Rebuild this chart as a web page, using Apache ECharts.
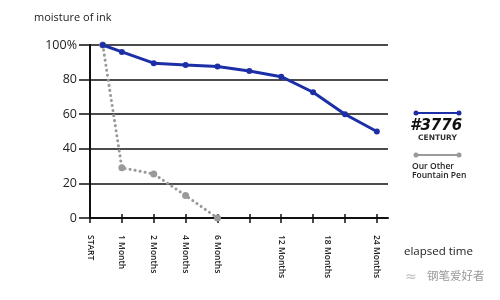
<!DOCTYPE html>
<html>
<head>
<meta charset="utf-8">
<script src="https://cdn.jsdelivr.net/npm/echarts@6/dist/echarts.min.js"></script>
<style>html,body{margin:0;padding:0;background:#fff}#c{width:500px;height:300px}</style>
</head>
<body>
<div id="c"></div>
<script>
// Tick positions (category slots) and their labels
var tickPositions = [0, 1, 2, 3, 4, 5, 6, 7, 8, 9];
var labelPositions = [0, 1, 2, 3, 4, 6, 7.45, 9];
var labelTexts = ['START', '1 Month', '2 Months', '4 Months', '6 Months', '12 Months', '18 Months', '24 Months'];
// Series: x slot, moisture %
var centuryX = [0.4, 1, 2, 3, 4, 5, 6, 7, 8, 9];
var centuryY = [100, 96, 89.5, 88.5, 87.6, 85, 81.7, 72.7, 60, 50];
var otherX = [0.4, 1, 2, 3, 4];
var otherY = [100, 29, 25.5, 13, 0];
var yTicks = [0, 20, 40, 60, 80, 100];

function pairs(xs, ys) { return xs.map(function (x, i) { return [x, ys[i]]; }); }
var labelMap = {};
labelPositions.forEach(function (p, i) { labelMap[p] = labelTexts[i]; });

var chart = echarts.init(document.getElementById('c'), null, { renderer: 'canvas' });
var axisCommon = { type: 'value', min: 0, max: 9.35, gridIndex: 0 };
chart.setOption({
  animation: false,
  grid: { left: 90, right: 112, top: 45, bottom: 82, containLabel: false },
  xAxis: [
    Object.assign({}, axisCommon, {
      position: 'bottom',
      axisLine: { show: true, lineStyle: { color: '#111', width: 2 } },
      axisTick: { show: true, length: 5, customValues: tickPositions, lineStyle: { color: '#111', width: 1.5 } },
      axisLabel: {
        show: true, rotate: -90, margin: 17, customValues: labelPositions,
        formatter: function (v) { return labelMap[v] || ''; },
        fontFamily: 'Open Sans', fontSize: 8.5, fontWeight: 600, color: '#222'
      },
      splitLine: { show: false }
    }),
    Object.assign({}, axisCommon, {
      position: 'bottom',
      axisLine: { show: false },
      axisTick: { show: true, inside: true, length: 4, customValues: tickPositions, lineStyle: { color: '#111', width: 1.5 } },
      axisLabel: { show: false },
      splitLine: { show: false }
    })
  ],
  yAxis: {
    type: 'value', min: 0, max: 100, interval: 20,
    axisLine: { show: true, lineStyle: { color: '#111', width: 2 } },
    axisTick: { show: true, length: 11, lineStyle: { color: '#111', width: 1.5 } },
    axisLabel: {
      margin: 13, fontFamily: 'Open Sans', fontSize: 12.5, color: '#222',
      formatter: function (v) { return v === 100 ? '100%' : String(v); }
    },
    splitLine: { show: true, lineStyle: { color: '#111', width: 1.5 } }
  },
  series: [
    {
      name: 'Our Other Fountain Pen', type: 'line', xAxisIndex: 0,
      data: pairs(otherX, otherY),
      symbol: 'circle', symbolSize: 7,
      itemStyle: { color: '#9a9a9a' },
      lineStyle: { color: '#9a9a9a', width: 3, type: [0.1, 5], cap: 'round' },
      z: 2
    },
    {
      name: '#3776 CENTURY', type: 'line', xAxisIndex: 0,
      data: pairs(centuryX, centuryY),
      symbol: 'circle', symbolSize: 6,
      itemStyle: { color: '#1c2fa6' },
      lineStyle: { color: '#1c2fa6', width: 3 },
      z: 3
    }
  ],
  graphic: [
    { type: 'text', left: 34, top: 12, style: { text: 'moisture of ink', font: '11px "Open Sans"', fill: '#222' } },
    { type: 'text', left: 404, top: 246, style: { text: 'elapsed time', font: '11.5px "Open Sans"', fill: '#222' } },
    // legend: #3776 CENTURY
    { type: 'line', shape: { x1: 416, y1: 113, x2: 459, y2: 113 }, style: { stroke: '#1c2fa6', lineWidth: 2 } },
    { type: 'circle', shape: { cx: 416, cy: 113, r: 2.5 }, style: { fill: '#1c2fa6' } },
    { type: 'circle', shape: { cx: 459, cy: 113, r: 2.5 }, style: { fill: '#1c2fa6' } },
    { type: 'text', left: 410, top: 119, style: { text: '#3776', font: 'italic 900 15px "DejaVu Sans"', fill: '#111' } },
    { type: 'text', left: 418, top: 134, style: { text: 'CENTURY', font: '600 7.5px "DejaVu Sans"', fill: '#333' } },
    // legend: other pen
    { type: 'line', shape: { x1: 416, y1: 155, x2: 459, y2: 155 }, style: { stroke: '#9a9a9a', lineWidth: 2 } },
    { type: 'circle', shape: { cx: 416, cy: 155, r: 2.5 }, style: { fill: '#9a9a9a' } },
    { type: 'circle', shape: { cx: 459, cy: 155, r: 2.5 }, style: { fill: '#9a9a9a' } },
    { type: 'text', left: 412, top: 162, style: { text: 'Our Other\nFountain Pen', font: '600 8.5px "Open Sans"', lineHeight: 9, fill: '#222' } },
    // watermark
    { type: 'text', left: 405, top: 270, style: { text: '≈', font: '14px "DejaVu Sans"', fill: '#bbb' } },
    { type: 'text', left: 427, top: 270, style: { text: '钢笔爱好者', font: '11.5px "Noto Sans CJK SC"', fill: '#999' } }
  ]
});
</script>
</body>
</html>
